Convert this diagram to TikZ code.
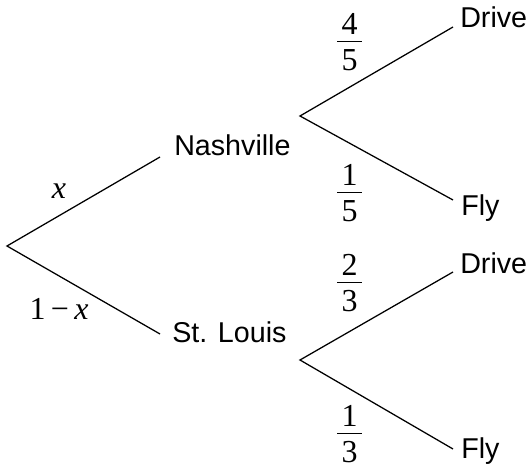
\documentclass[tikz,border=0pt]{standalone}
\usepackage{fontspec}
\setmainfont{Liberation Serif}
\setsansfont{Liberation Sans}
\newcommand{\fr}[2]{\vbox{\offinterlineskip\hbox to 18.75pt{\hss#1\hss}\kern5pt\hrule height 0.9pt\kern5.5pt\hbox to 18.75pt{\hss#2\hss}}}
\begin{document}
\begin{tikzpicture}[x=0.75pt,y=-0.75pt,
  branch/.style={line width=0.95pt,black},
  place/.style={font=\sffamily\fontsize{21.5}{25}\selectfont,inner sep=0pt,anchor=base west},
  prob/.style={font=\rmfamily\fontsize{24}{28}\selectfont,inner sep=0pt},
  frac/.style={prob,anchor=center}]
\useasboundingbox (0,0) rectangle (532,470);
% tree points
\coordinate (r) at (7,246);
\coordinate (n1) at (160,157);
\coordinate (s1) at (160,334);
\coordinate (n2) at (300,116);
\coordinate (nd) at (453,27);
\coordinate (nf) at (453,200);
\coordinate (s2) at (300,360);
\coordinate (sd) at (453,272);
\coordinate (sf) at (453,449);
% connectors
\draw[branch] (n1) -- (r) -- (s1);
\draw[branch] (nd) -- (n2) -- (nf);
\draw[branch] (sd) -- (s2) -- (sf);
% places
\node[place] (nash) at (174,156) {Nashville};
\node[place] (stl) at (172,343) {St. Louis};
\node[place] (drive1) at (460,28) {Drive};
\node[place] (fly1) at (461,216) {Fly};
\node[place] (drive2) at (460,274) {Drive};
\node[place] (fly2) at (461,458) {Fly};
% probabilities
\node[prob,anchor=base] (px) at (59,199) {\itshape x};
\node[prob,anchor=base] (p1x) at (59,320) {1\kern4pt−\kern4pt\textit{x}};
\node[frac] (f45) at (349.5,42) {\fr{4}{5}};
\node[frac] (f15) at (349.5,193) {\fr{1}{5}};
\node[frac] (f23) at (349.5,283) {\fr{2}{3}};
\node[frac] (f13) at (349.5,434) {\fr{1}{3}};
\end{tikzpicture}
\end{document}
